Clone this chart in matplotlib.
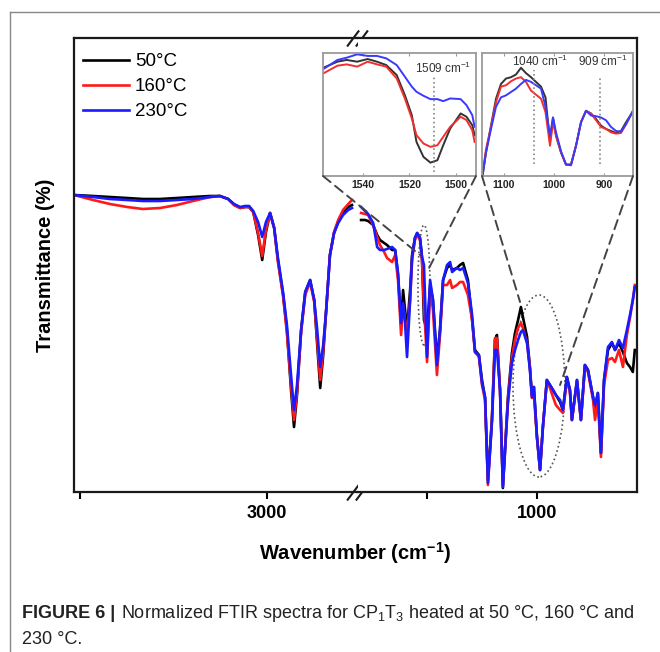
import matplotlib
matplotlib.use('Agg')
import matplotlib.pyplot as plt
from matplotlib.patches import Ellipse, ConnectionPatch
from matplotlib.lines import Line2D

plt.rcParams['font.family'] = ['Liberation Sans', 'DejaVu Sans']
plt.rcParams['mathtext.fontset'] = 'custom'
plt.rcParams['mathtext.rm'] = 'Liberation Sans'
plt.rcParams['mathtext.it'] = 'Liberation Sans:italic'
plt.rcParams['mathtext.bf'] = 'Liberation Sans:bold'

labels = ['50°C', '160°C', '230°C']
colors = ['black', '#ff1a1a', '#1a1aff']

# main spectrum, high wavenumber part (cm-1, transmittance a.u.)
wn_left = [3516, 3465, 3420, 3374, 3332, 3286, 3241, 3198, 3152, 3126, 3104, 3088, 3072, 3059,
           3048, 3037, 3024, 3013, 3003, 2992, 2981, 2971, 2957, 2947, 2936, 2928, 2920, 2909,
           2898, 2885, 2874, 2866, 2858, 2850, 2842, 2832, 2821, 2810, 2797, 2783, 2773]
t50_left = [61, 60.8, 60.6, 60.4, 60.2, 60.2, 60.4, 60.6, 60.8, 60.8, 60.2, 59, 58.4, 58.6,
            58.6, 57.6, 53, 48, 53.6, 57.4, 54.4, 48, 41, 34, 22, 14.6, 21, 34,
            41.6, 44, 40, 31, 22.4, 29, 38, 49, 53.4, 55.6, 57.4, 58.6, 59]
t160_left = [61, 60, 59.2, 58.6, 58.2, 58.4, 59, 59.8, 60.6, 60.8, 60.2, 59, 58.4, 58.6,
             58.6, 57.6, 53.4, 48.8, 54, 57.4, 54.4, 47.6, 40.6, 33.4, 23, 16, 21.6, 33.6,
             41, 43.6, 39.6, 32, 24, 30, 38, 49, 53.6, 56, 58, 59.2, 60]
t230_left = [61, 60.6, 60.2, 60, 59.8, 59.8, 60, 60.2, 60.6, 60.8, 60.2, 59.2, 58.6, 58.8,
             58.8, 57.8, 55.6, 52.6, 55.6, 57.4, 54.4, 48.4, 41.4, 35, 25, 18, 23, 34,
             41.6, 44, 40, 34, 26.6, 31, 38, 49, 53.4, 55.4, 57, 58, 58.4]

# main spectrum, fingerprint part
wn_right = [1800, 1782, 1768, 1745, 1727, 1714, 1695, 1682, 1659, 1645,
            1632, 1618, 1609, 1600, 1591, 1577, 1568, 1555, 1545, 1532,
            1523, 1514, 1500, 1486, 1473, 1455, 1441, 1427, 1409, 1395,
            1386, 1364, 1350, 1336, 1314, 1295, 1282, 1264, 1250, 1236,
            1223, 1205, 1191, 1182, 1168, 1155, 1132, 1114, 1100, 1086,
            1073, 1064, 1045, 1032, 1023, 1014, 1000, 986, 973, 955,
            941, 927, 914, 895, 882, 864, 850, 841, 818, 800,
            782, 768, 745, 736, 723, 709, 695, 677, 659, 645,
            627, 609, 591, 577, 564, 555]
t50_right = [56, 56, 55.8, 55, 53, 52, 51.4, 51, 50, 50,
             45, 35, 42, 38, 34, 42, 49, 52.4, 53.4, 52.4,
             48.6, 36, 34, 43, 40, 28, 34, 44, 46.4, 47,
             46, 46.4, 47, 47.4, 44, 36, 30, 29, 24, 20.4,
             4, 16, 32, 33, 22, 2.4, 20.6, 29.4, 33.4, 36,
             38.6, 36.6, 32.6, 26.6, 21, 22.6, 12.6, 6, 14.6, 24,
             23, 22, 21, 19.6, 18, 24.6, 22, 16, 24, 16,
             27, 26, 20.6, 18, 21.4, 9.4, 24, 30, 31.4, 30,
             31.4, 29.6, 27.4, 26.6, 25.6, 30]
t160_right = [57.4, 57.2, 57, 55, 52.6, 51, 49.6, 48.4, 47.6, 49,
              44, 33, 39, 36, 33, 40, 48, 52, 53, 52,
              48, 39, 27.6, 42, 38, 25, 33, 43, 43, 44,
              42.4, 43, 43.6, 43.6, 41, 36, 29.6, 28.6, 23, 20,
              3, 16, 32.4, 32.4, 22, 3, 20, 28.4, 32, 34.4,
              35.4, 34.4, 31.4, 26.4, 20.4, 21, 12.6, 6, 14.6, 24,
              22.4, 20.6, 19, 18, 17.4, 24, 21.6, 16, 23.6, 16,
              26.4, 25.6, 20, 16, 20, 8.6, 23, 28, 28.4, 27.6,
              30, 26.6, 33, 36.4, 40, 43]
t230_right = [58.6, 57.8, 57.2, 55.4, 50.6, 50, 50, 50.2, 50.6, 50,
              45.4, 35.4, 39.4, 35.4, 28.6, 40, 48.6, 52.4, 53.4, 52.4,
              48.6, 47, 28.6, 44, 40, 27, 34, 44, 47, 47.6,
              45.6, 46.4, 46, 46.4, 43.4, 37, 29.6, 29, 23.4, 20.6,
              3.4, 15.4, 30, 30, 22, 2.6, 19.4, 27.4, 30, 32,
              33.6, 34, 31.4, 26, 20.6, 22.6, 12.6, 6, 14.6, 24,
              23, 22, 21, 20, 18, 24.6, 22, 16, 24, 16,
              27, 26, 20.6, 19, 21.4, 9.4, 24, 30.6, 31.6, 30,
              32, 30.4, 34, 37, 40, 42.6]

# inset 1: 1560-1490 cm-1
ins1_wn = [1557, 1551, 1547, 1542.5, 1538, 1534, 1530, 1525.5, 1522, 1519,
           1517, 1514, 1511, 1508, 1505.5, 1502.5, 1498, 1495.5, 1493, 1492]
ins1_50 = [83, 87.5, 88.8, 87.5, 89.5, 87.5, 85, 77.5, 62.5, 47.5,
           27.5, 16.3, 12, 13.8, 25, 37.5, 48.8, 46.3, 40, 32.5]
ins1_160 = [78.8, 84.5, 85.5, 83.8, 87.5, 85.5, 83.8, 75, 60, 45,
            32.5, 26.3, 23.8, 25, 31.3, 38.8, 46.3, 43.8, 36.3, 27.5]
ins1_230 = [82, 88.8, 90.5, 93, 91.8, 91.8, 90, 85, 76.3, 68.8,
            65, 62, 59.5, 59.5, 58, 60, 59.5, 55, 47.5, 38.8]

# inset 2: 1145-840 cm-1
ins2_wn = [1143, 1136, 1126, 1116, 1106, 1096, 1086, 1076, 1066, 1056,
           1046, 1036, 1026, 1017, 1008, 1002, 996, 986, 976, 966,
           956, 946, 936, 926, 916, 906, 896, 886, 876, 866, 856, 843]
ins2_50 = [2.5, 20, 40, 60, 71, 75, 76, 78, 83, 79,
           76, 72.5, 69, 61, 27.5, 46, 32.5, 20, 11, 11,
           25, 42.5, 51, 49, 45, 40, 37.5, 36, 34.5, 36, 42.5, 50]
ins2_160 = [4, 22.5, 39, 57.5, 69, 70, 73, 75, 76, 72.5,
            66, 63, 60, 50, 25, 42.5, 32.5, 20, 11, 11,
            25, 42.5, 51, 49, 44, 39, 37.5, 35, 34, 34.5, 41, 50]
ins2_230 = [2.5, 20, 37.5, 54, 61, 62.5, 65, 67.5, 71, 74,
            72.5, 70, 67.5, 54, 32.5, 46, 35, 21, 11, 10.5,
            25, 42.5, 51, 47.5, 47, 46, 44, 39, 36, 35.5, 41, 50.5]

W, H = 660, 652
fig = plt.figure(figsize=(W / 100, H / 100), dpi=100)
fig.patch.set_facecolor('white')

ax_l = fig.add_axes([74 / W, 1 - 492 / H, 284 / W, 454 / H])
ax_r = fig.add_axes([358 / W, 1 - 492 / H, 279 / W, 454 / H], sharey=ax_l)

for ax, wn, series in [(ax_l, wn_left, [t50_left, t160_left, t230_left]),
                       (ax_r, wn_right, [t50_right, t160_right, t230_right])]:
    for t, c, lab in zip(series, colors, labels):
        ax.plot(wn, t, color=c, lw=1.9, label=lab)
    for s in ax.spines.values():
        s.set_linewidth(1.6)
        s.set_color('#1a1a1a')
    ax.tick_params(axis='x', direction='out', length=5, width=1.5, labelsize=13, pad=4.5)
    ax.tick_params(axis='y', left=False, labelleft=False)

ax_l.spines['right'].set_visible(False)
ax_r.spines['left'].set_visible(False)
ax_l.set_xlim(3516, 2757)
ax_r.set_xlim(1814, 545)
ax_l.set_ylim(1.6, 92.4)
ax_l.set_yticks([])
ax_l.set_xticks([3500, 3000])
ax_l.set_xticklabels(['', '3000'])
ax_r.set_xticks([1500, 1000])
ax_r.set_xticklabels(['', '1000'])
for ax in (ax_l, ax_r):
    plt.setp(ax.get_xticklabels(), fontweight='bold')

# axis break marks
for y in (0, 1):
    for verts in ([(-2.6, -2), (0.4, 2)], [(-0.4, -2), (2.6, 2)]):
        ax_l.plot([0.995], [y], transform=ax_l.transAxes, marker=verts, markersize=15,
                  ls='none', mec='#1a1a1a', mew=1.5, clip_on=False, zorder=5)

ax_l.set_ylabel('Transmittance (%)', fontsize=14.5, fontweight='bold')
ax_l.yaxis.set_label_coords(-0.067, 0.5)
fig.text(355 / W, 1 - 553 / H, r'Wavenumber (cm$^{\mathbf{-1}}$)', fontsize=14.5,
         fontweight='bold', ha='center', va='center')

ax_l.legend(loc='upper left', bbox_to_anchor=(0.03, 0.967), frameon=False, fontsize=13.5,
            handlelength=2.5, handletextpad=0.3, labelspacing=0.42, borderpad=0,
            borderaxespad=0)

# ellipses marking zoomed regions
ell1 = Ellipse((1514, 43), width=54.5, height=24, fill=False, ls=':', ec='#555555', lw=1.2)
ell2 = Ellipse((991, 22.8), width=236, height=36.4, fill=False, ls=':', ec='#555555', lw=1.2)
ax_r.add_patch(ell1)
ax_r.add_patch(ell2)

# insets
ins1 = fig.add_axes([323 / W, 1 - 176 / H, 153 / W, 123 / H])
ins2 = fig.add_axes([482 / W, 1 - 176 / H, 151 / W, 123 / H])
for ins, wn, series in [(ins1, ins1_wn, [ins1_50, ins1_160, ins1_230]),
                        (ins2, ins2_wn, [ins2_50, ins2_160, ins2_230])]:
    for t, c in zip(series, ['#333333', '#f03030', '#3a3aff']):
        ins.plot(wn, t, color=c, lw=1.4)
    for s in ins.spines.values():
        s.set_color('#9a9a9a')
        s.set_linewidth(1.3)
    ins.set_yticks([])
    ins.tick_params(axis='x', direction='in', length=2.5, color='#9a9a9a', top=True,
                    labelsize=7.5, labelcolor='#222222', pad=3)
    plt.setp(ins.get_xticklabels(), fontweight='bold')

ins1.set_xlim(1557.2, 1491.4)
ins1.set_ylim(2, 94)
ins1.set_xticks([1540, 1520, 1500])
ins2.set_xlim(1144, 842)
ins2.set_ylim(2.5, 94)
ins2.set_xticks([1100, 1000, 900])

ins1.axvline(1509.5, ymin=0.03, ymax=0.82, ls=':', color='#888888', lw=1.2)
ins2.axvline(1040, ymin=0.1, ymax=0.86, ls=':', color='#888888', lw=1.2)
ins2.axvline(909, ymin=0.1, ymax=0.8, ls=':', color='#888888', lw=1.2)
ins1.text(0.784, 0.878, r'1509 cm$^{-1}$', transform=ins1.transAxes, fontsize=8.5,
          color='#333333', ha='center', va='center')
ins2.text(0.384, 0.935, r'1040 cm$^{-1}$', transform=ins2.transAxes, fontsize=8.5,
          color='#333333', ha='center', va='center')
ins2.text(0.80, 0.935, r'909 cm$^{-1}$', transform=ins2.transAxes, fontsize=8.5,
          color='#333333', ha='center', va='center')

# dashed connectors from the insets to the ellipses
for ins, xa, xyb in [(ins1, 0, (1532, 49)), (ins1, 1, (1500, 45.6)),
                     (ins2, 0, (1077, 39.6)), (ins2, 1, (895, 23))]:
    cp = ConnectionPatch(xyA=(xa, 0), coordsA=ins.transAxes, xyB=xyb, coordsB=ax_r.transData,
                         ls=(0, (5, 3)), color='#444444', lw=1.4, zorder=6)
    fig.add_artist(cp)

# outer frame
fig.add_artist(Line2D([10 / W, 1], [1 - 12 / H, 1 - 12 / H], transform=fig.transFigure,
                      color='#888888', lw=1))
fig.add_artist(Line2D([10 / W, 10 / W], [0, 1 - 12 / H], transform=fig.transFigure,
                      color='#888888', lw=1))

# caption
cap_size = 13
t1 = fig.text(22 / W, 1 - 613 / H, 'FIGURE 6 |', fontsize=cap_size, fontweight='bold',
              va='center', color='#222222')
ax_l.annotate('Normalized FTIR spectra for CP$_1$T$_3$ heated at 50 °C, 160 °C and',
              xy=(1, 0.5), xycoords=t1, xytext=(4, 0), textcoords='offset points',
              va='center', fontsize=cap_size, color='#222222', annotation_clip=False)
fig.text(22 / W, 1 - 640 / H, '230 °C.', fontsize=cap_size, va='center', color='#222222')

fig.savefig('out.png', dpi=100)
